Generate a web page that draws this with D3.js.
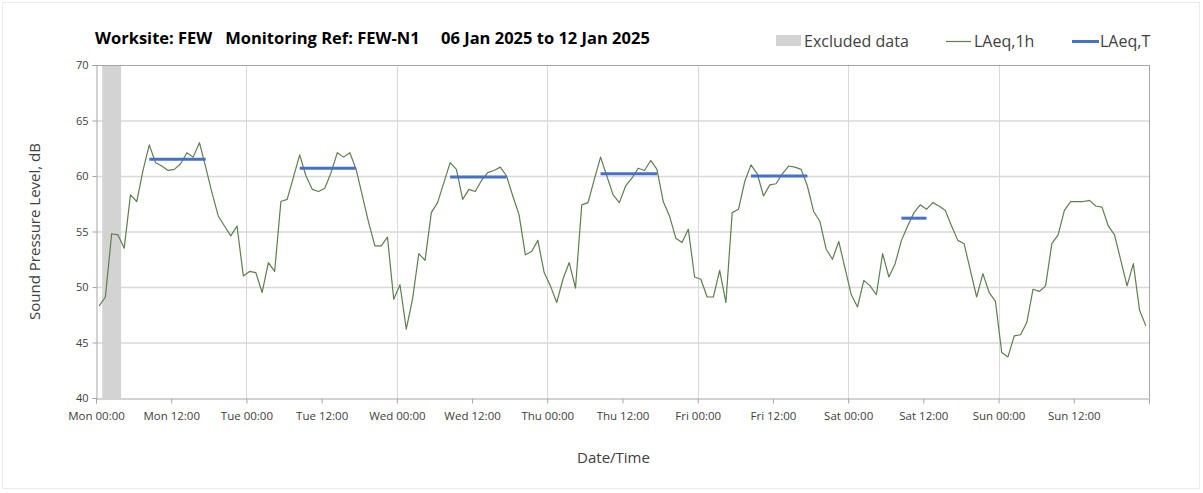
<!DOCTYPE html>
<html><head><meta charset="utf-8">
<script src="https://cdn.jsdelivr.net/npm/d3@7"></script>
<style>
html,body{margin:0;padding:0;background:#fff;}
svg{display:block;}
text{font-family:"Open Sans","Liberation Sans",sans-serif;}
</style></head><body>
<svg id="chart" width="1203" height="493"></svg>
<script>
// Hourly LAeq,1h values, Mon 06 Jan 00:00 .. Sun 12 Jan 23:00 (one per hour)
const laeq1h = [
 48.3,49.1,54.8,54.7,53.5,58.3,57.7,60.5,62.8,61.2,60.9,60.5,60.6,61.1,62.1,61.7,
 63.0,60.8,58.5,56.4,55.5,54.6,55.5,51.0,51.4,51.3,49.5,52.2,51.4,57.7,57.9,59.9,
 61.9,60.0,58.8,58.6,58.9,60.3,62.1,61.7,62.1,60.6,58.2,55.8,53.7,53.7,54.5,48.9,
 50.2,46.2,48.9,53.0,52.4,56.7,57.6,59.4,61.2,60.6,57.9,58.8,58.6,59.6,60.3,60.5,
 60.8,60.0,58.2,56.5,52.9,53.2,54.2,51.3,50.1,48.6,50.7,52.2,49.9,57.4,57.6,59.7,
 61.7,60.0,58.3,57.6,59.1,59.8,60.7,60.5,61.4,60.6,57.7,56.4,54.4,54.0,55.2,50.9,
 50.7,49.1,49.1,51.5,48.6,56.7,57.0,59.5,61.0,60.2,58.2,59.2,59.3,60.2,60.9,60.8,
 60.6,59.1,56.8,55.9,53.4,52.5,54.1,51.7,49.3,48.2,50.6,50.1,49.3,53.0,50.9,52.1,
 54.2,55.5,56.7,57.4,57.0,57.6,57.3,56.9,55.5,54.2,53.9,51.5,49.1,51.2,49.5,48.7,
 44.1,43.7,45.6,45.7,46.8,49.8,49.6,50.1,53.9,54.7,56.9,57.7,57.7,57.7,57.8,57.3,
 57.2,55.5,54.7,52.4,50.1,52.1,47.9,46.5
];
// LAeq,T periods: start hour, end hour (exclusive), value
const periodStart = [8, 32, 56, 80, 104, 128];
const periodEnd   = [18, 42, 66, 90, 114, 133];
const periodValue = [61.5, 60.7, 59.9, 60.2, 60.0, 56.2];
// Excluded data (hours from start)
const excludedStart = [1];
const excludedEnd   = [4];
// Axis ticks
const xTickHours  = [0,12,24,36,48,60,72,84,96,108,120,132,144,156,168];
const xTickLabels = ["Mon 00:00","Mon 12:00","Tue 00:00","Tue 12:00","Wed 00:00","Wed 12:00","Thu 00:00","Thu 12:00","Fri 00:00","Fri 12:00","Sat 00:00","Sat 12:00","Sun 00:00","Sun 12:00",""];
const yTicks = [40,45,50,55,60,65,70];
const dayLines = [24,48,72,96,120,144];

const svg = d3.select("#chart");
const L = 96, R = 1149, T = 65, B = 398;
const x = d3.scaleLinear().domain([0,168]).range([L,R]);
const y = d3.scaleLinear().domain([40,70]).range([B,T]);

// outer frame
svg.append("rect").attr("x",2.5).attr("y",2.5).attr("width",1197).attr("height",486)
  .attr("fill","none").attr("stroke","#ececec");

// gridlines
svg.append("g").selectAll("line").data(yTicks.filter(v=>v>40 && v<70)).join("line")
  .attr("x1",L).attr("x2",R).attr("y1",d=>y(d)+0.5).attr("y2",d=>y(d)+0.5)
  .attr("stroke","#d9d9d9").attr("stroke-width",1.5);
svg.append("g").selectAll("line").data(dayLines).join("line")
  .attr("x1",d=>Math.round(x(d))+0.5).attr("x2",d=>Math.round(x(d))+0.5).attr("y1",T).attr("y2",B)
  .attr("stroke","#d9d9d9").attr("stroke-width",1);

// excluded band
svg.append("g").selectAll("rect").data(excludedStart).join("rect")
  .attr("x",(d)=>x(d)).attr("width",(d,i)=>x(excludedEnd[i])-x(d))
  .attr("y",T).attr("height",B-T).attr("fill","#d3d3d3");

// frame top/right
svg.append("line").attr("x1",L).attr("x2",R+0.5).attr("y1",T+0.5).attr("y2",T+0.5).attr("stroke","#a6a6a6");
svg.append("line").attr("x1",R+0.5).attr("x2",R+0.5).attr("y1",T).attr("y2",B).attr("stroke","#a6a6a6");

// axes
const xAxis = d3.axisBottom(x).tickValues(xTickHours).tickSize(5)
  .tickFormat((d,i)=>xTickLabels[i]);
const gx = svg.append("g").attr("transform",`translate(0,${B+0.5})`).call(xAxis);
gx.select(".domain").attr("stroke","#a6a6a6");
gx.selectAll(".tick line").attr("stroke","#a6a6a6");
gx.selectAll(".tick text").attr("fill","#404040").attr("font-size",11.5).attr("dy","1.2em")
  .style("font-family","'Liberation Sans Narrow','Open Sans',sans-serif");

const yAxis = d3.axisLeft(y).tickValues(yTicks).tickSize(4).tickFormat(d3.format("d"));
const gy = svg.append("g").attr("transform",`translate(${L+0.5},0)`).call(yAxis);
gy.select(".domain").attr("stroke","#a6a6a6");
gy.selectAll(".tick line").attr("stroke","#a6a6a6");
gy.selectAll(".tick text").attr("fill","#404040").attr("font-size",11).attr("x",-8);

// LAeq,1h line
const line = d3.line().x((d,i)=>x(i+0.5)).y(d=>y(d));
svg.append("path").datum(laeq1h).attr("d",line).attr("fill","none")
  .attr("stroke","#5e7f4e").attr("stroke-width",1.2).attr("stroke-linejoin","round");

// LAeq,T segments
svg.append("g").selectAll("line").data(periodValue).join("line")
  .attr("x1",(d,i)=>x(periodStart[i]+0.5)).attr("x2",(d,i)=>x(periodEnd[i]-0.5))
  .attr("y1",d=>y(d)).attr("y2",d=>y(d))
  .attr("stroke","#4472c4").attr("stroke-width",3);

// titles
svg.append("text").attr("x",95).attr("y",44).attr("font-size",16.5).attr("font-weight","bold")
  .attr("fill","#000")
  .text("Worksite: FEW\u00a0\u00a0\u00a0Monitoring Ref: FEW-N1\u00a0\u00a0\u00a0\u00a0\u00a006 Jan 2025 to 12 Jan 2025");

svg.append("text").attr("transform",`translate(40,${(T+B)/2}) rotate(-90)`).attr("text-anchor","middle")
  .attr("font-size",15).attr("fill","#404040").text("Sound Pressure Level, dB");
svg.append("text").attr("x",(L+R)/2 - 9).attr("y",463).attr("text-anchor","middle")
  .attr("font-size",15).attr("fill","#404040").text("Date/Time");

// legend
const lg = svg.append("g");
lg.append("rect").attr("x",776).attr("y",35).attr("width",25).attr("height",11).attr("fill","#d3d3d3");
lg.append("text").attr("x",804).attr("y",47).attr("font-size",16).attr("fill","#404040").text("Excluded data");
lg.append("line").attr("x1",946).attr("x2",971).attr("y1",41.5).attr("y2",41.5).attr("stroke","#5e7f4e").attr("stroke-width",1.2);
lg.append("text").attr("x",974).attr("y",47).attr("font-size",16).attr("fill","#404040").text("LAeq,1h");
lg.append("line").attr("x1",1072).attr("x2",1099).attr("y1",41.5).attr("y2",41.5).attr("stroke","#4472c4").attr("stroke-width",3);
lg.append("text").attr("x",1100).attr("y",47).attr("font-size",16).attr("fill","#404040").text("LAeq,T");
</script></body></html>
